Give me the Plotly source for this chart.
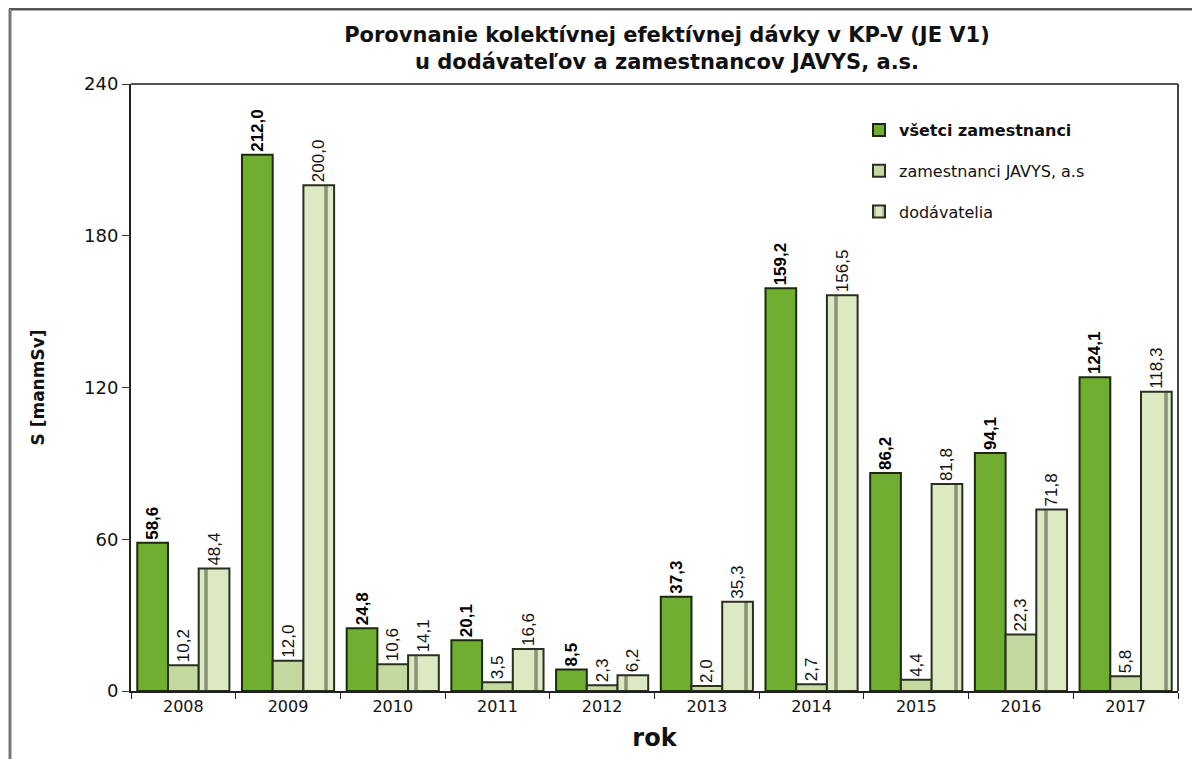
import plotly.graph_objects as go

years = ["2008", "2009", "2010", "2011", "2012", "2013", "2014", "2015", "2016", "2017"]
vsetci = [58.6, 212.0, 24.8, 20.1, 8.5, 37.3, 159.2, 86.2, 94.1, 124.1]
javys = [10.2, 12.0, 10.6, 3.5, 2.3, 2.0, 2.7, 4.4, 22.3, 5.8]
dodavatelia = [48.4, 200.0, 14.1, 16.6, 6.2, 35.3, 156.5, 81.8, 71.8, 118.3]
y_ticks = [0, 60, 120, 180, 240]


def fmt(vals, bold=False):
    out = []
    for v in vals:
        s = f"{v:.1f}".replace(".", ",")
        out.append(f"<b>{s}</b>" if bold else s)
    return out


FONT = "DejaVu Sans, Arial, sans-serif"
LFONT = "Liberation Sans, Arial, sans-serif"

fig = go.Figure()

fig.add_trace(go.Bar(
    x=years, y=vsetci, name="<b>všetci zamestnanci</b>", legendgroup="a",
    marker=dict(color="#6fae2e", line=dict(color="#1d2a10", width=2)),
    text=fmt(vsetci, bold=True), textposition="outside", textangle=-90,
    constraintext="none",
    textfont=dict(size=17, color="#000", family=LFONT),
    cliponaxis=False,
))
fig.add_trace(go.Bar(
    x=years, y=javys, name="zamestnanci JAVYS, a.s", legendgroup="b",
    marker=dict(color="#c3d9a0", line=dict(color="#2a2f22", width=2)),
    text=fmt(javys), textposition="outside", textangle=-90,
    constraintext="none",
    textfont=dict(size=17, color="#111", family=LFONT),
    cliponaxis=False,
))
fig.add_trace(go.Bar(
    x=years, y=dodavatelia, name="dodávatelia", legendgroup="c",
    marker=dict(color="#dce9c2", line=dict(color="#2a2f22", width=2),
                pattern=dict(shape="|", size=30, solidity=0.12, fgcolor="#3a3f30")),
    text=fmt(dodavatelia), textposition="outside", textangle=-90,
    constraintext="none",
    textfont=dict(size=17, color="#111", family=LFONT),
    cliponaxis=False,
))

# page has an 8px body margin, so figure coords = page coords - 8
W, H = 1192, 751
L, T = 123, 76
R, B = W - 1170, H - 683
pw, ph = W - L - R, H - T - B


def px_x(p):
    return (p - 8 - L) / pw


def px_y(p):
    return (H - B - (p - 8)) / ph


fig.update_layout(
    width=W, height=H,
    margin=dict(l=L, r=R, t=T, b=B),
    paper_bgcolor="white", plot_bgcolor="white",
    barmode="group", bargap=0.12, bargroupgap=0.0,
    font=dict(family=FONT, color="#111", size=15),
    title=dict(
        text="<b>Porovnanie kolektívnej efektívnej dávky v KP-V (JE V1)<br>u dodávateľov a zamestnancov JAVYS, a.s.</b>",
        x=(667 - 8) / W, xanchor="center", y=1 - 34 / H, yanchor="top",
        font=dict(size=21, color="#111", family=FONT),
    ),
    legend=dict(
        x=px_x(859), y=px_y(113), xanchor="left", yanchor="top",
        bgcolor="rgba(0,0,0,0)", font=dict(size=16, color="#111"),
        tracegroupgap=17, traceorder="grouped", itemwidth=30,
    ),
    showlegend=True,
    xaxis=dict(
        showline=True, linecolor="#222", linewidth=2, mirror=False,
        ticks="outside", tickson="boundaries", ticklen=6, tickcolor="#222",
        tickfont=dict(size=16), showgrid=False,
        title=dict(text="<b>rok</b>", font=dict(size=24), standoff=14),
    ),
    yaxis=dict(
        range=[0, 240], tickvals=y_ticks, showline=True, linecolor="#222",
        linewidth=2, ticks="outside", ticklen=7, tickcolor="#444",
        tickfont=dict(size=18), showgrid=False, zeroline=False,
        title=dict(text="<b>S [manmSv]</b>", font=dict(size=17), standoff=35),
    ),
    shapes=[
        # plot area frame (top and right)
        dict(type="line", xref="paper", yref="paper", x0=0, x1=1, y0=1, y1=1,
             line=dict(color="#555", width=2)),
        dict(type="line", xref="paper", yref="paper", x0=1, x1=1, y0=0, y1=1,
             line=dict(color="#444", width=2)),
        # outer chart frame
        dict(type="line", xref="paper", yref="paper",
             x0=px_x(9), x1=px_x(1210), y0=px_y(9), y1=px_y(9),
             line=dict(color="#555", width=3)),
        dict(type="line", xref="paper", yref="paper",
             x0=px_x(10), x1=px_x(10), y0=px_y(9), y1=px_y(770),
             line=dict(color="#777", width=3)),
    ],
)

fig.write_html("out.html")
